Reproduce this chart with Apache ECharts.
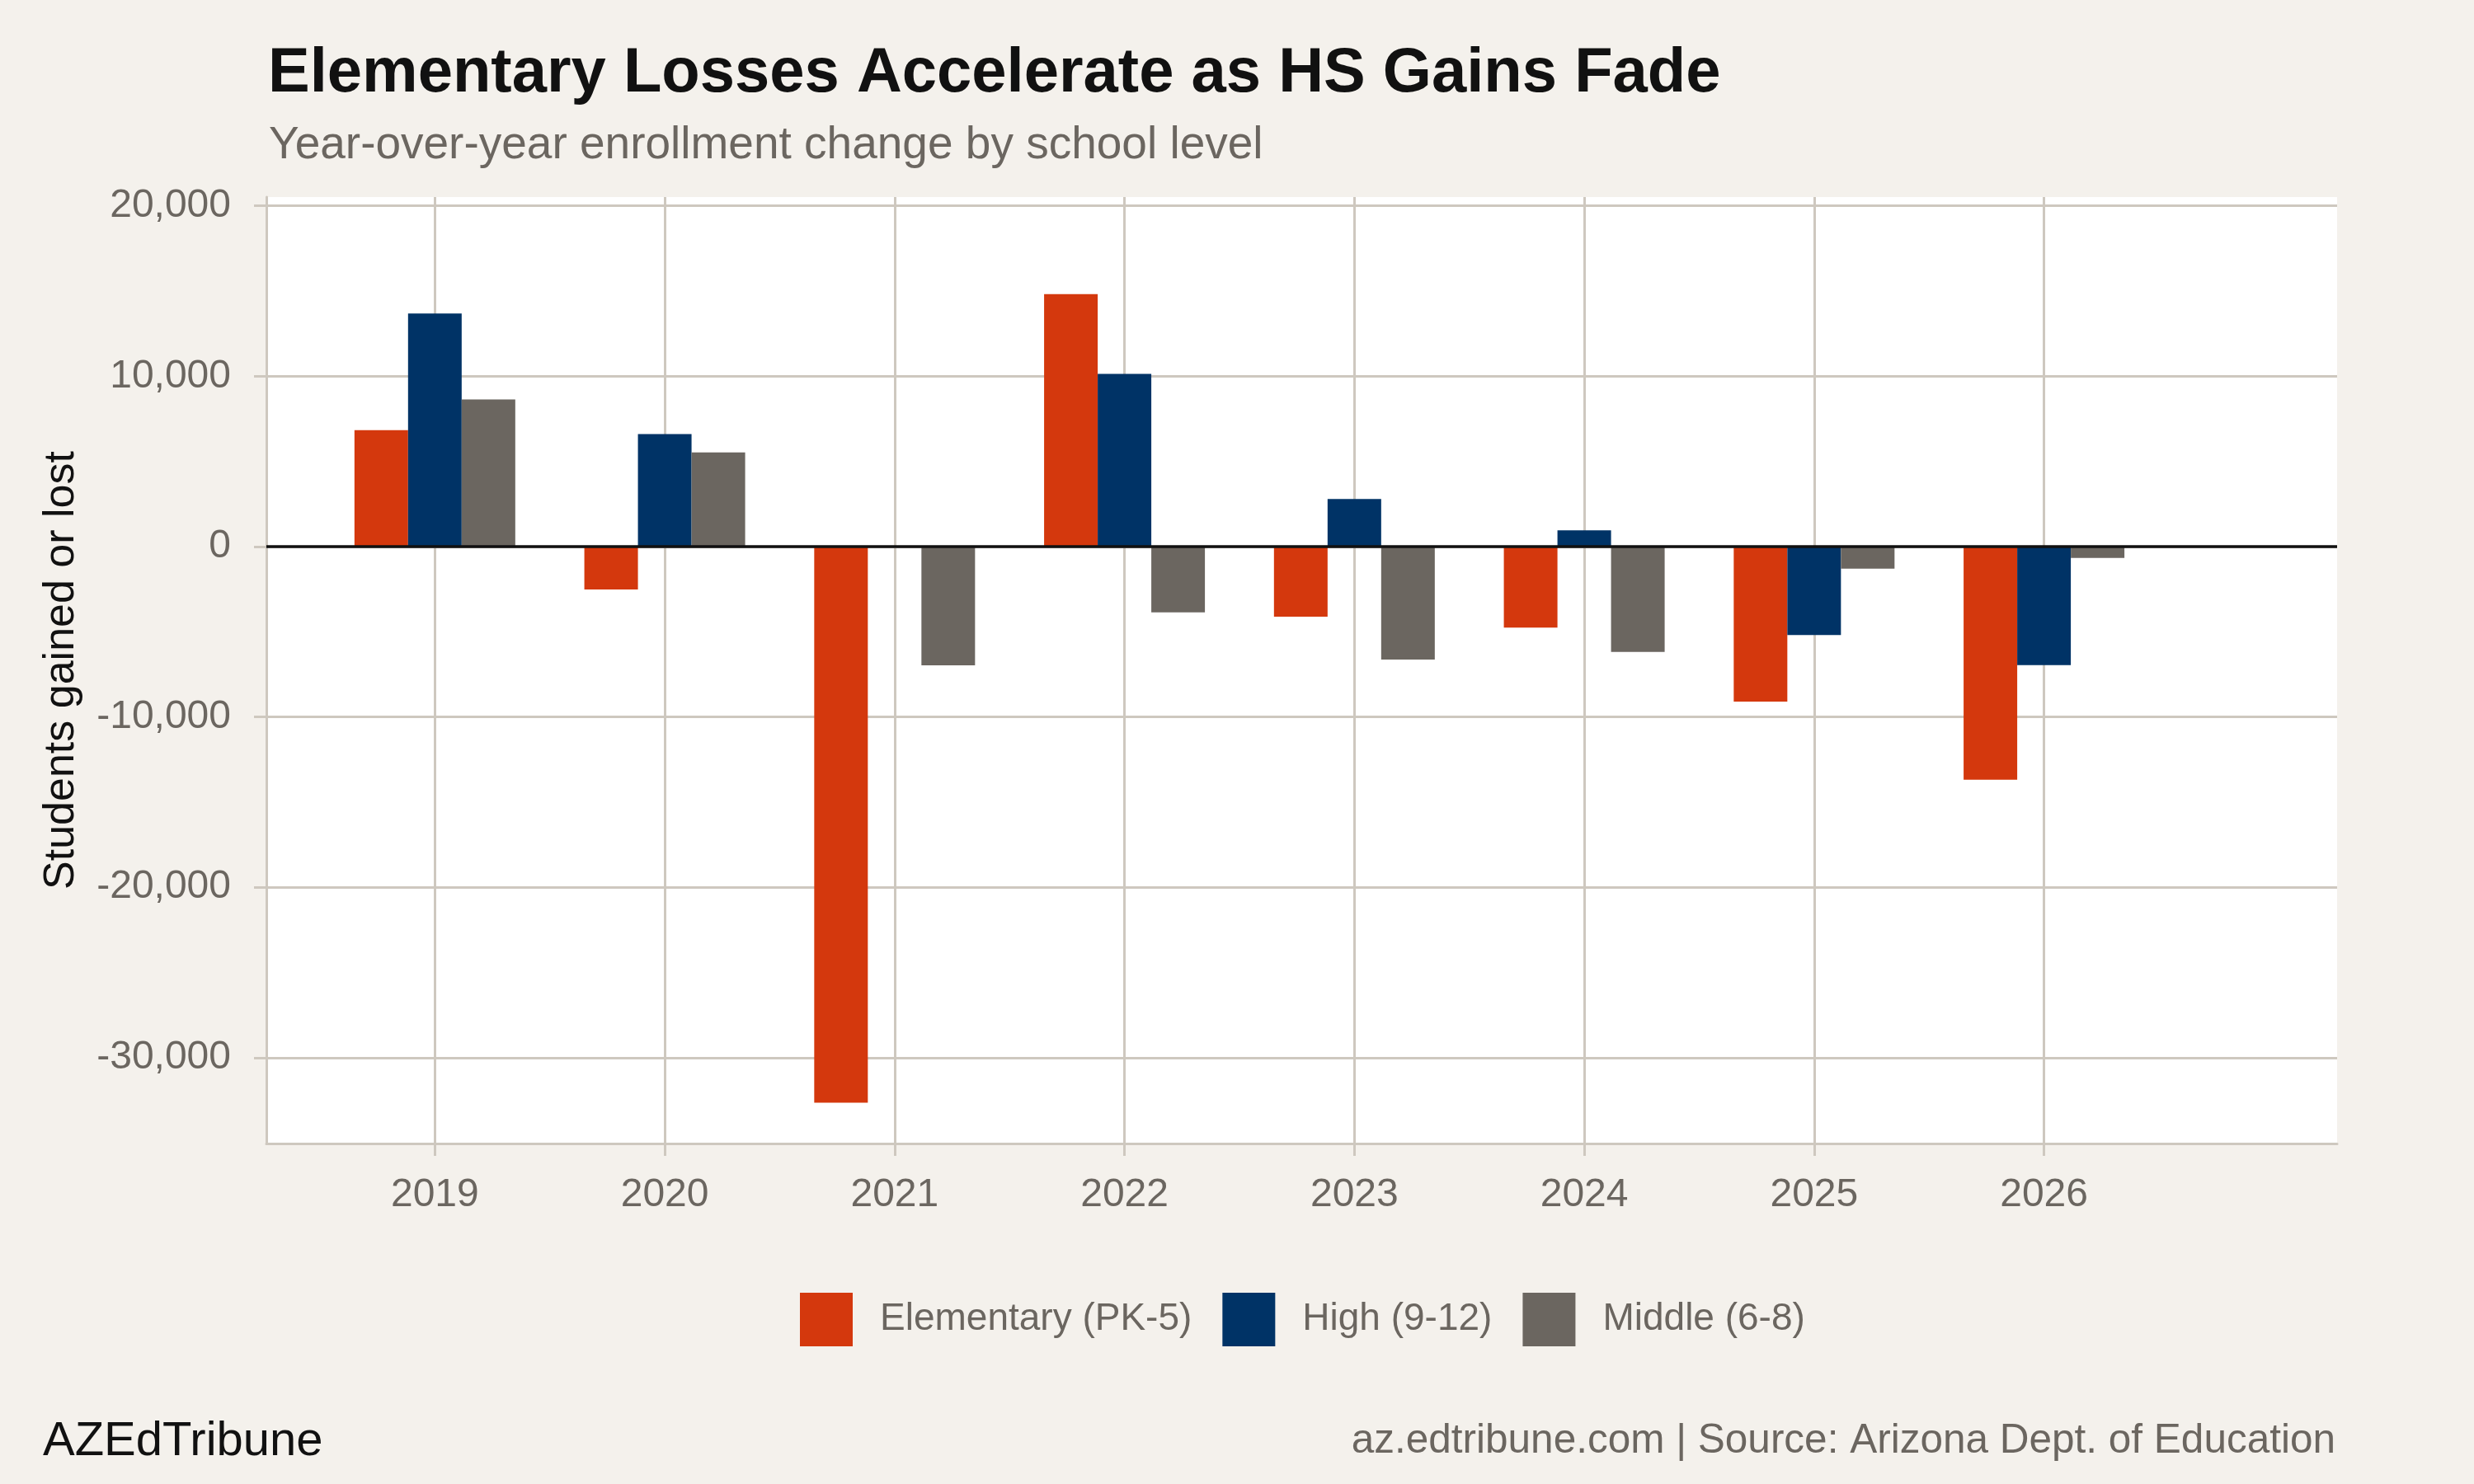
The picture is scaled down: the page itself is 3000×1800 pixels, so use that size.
<!DOCTYPE html>
<html>
<head>
<meta charset="utf-8">
<script src="https://cdn.jsdelivr.net/npm/echarts@6/dist/echarts.min.js"></script>
<style>
html,body{margin:0;padding:0;background:#F4F1EC;}
#chart{width:3000px;height:1800px;}
</style>
</head>
<body>
<div id="chart"></div>
<script>
// ---- data ----
const years = [2019, 2020, 2021, 2022, 2023, 2024, 2025, 2026];
const seriesNames = ['Elementary (PK-5)', 'High (9-12)', 'Middle (6-8)'];
const elementary = [6840, -2520, -32650, 14820, -4110, -4750, -9100, -13680];
const high = [13680, 6610, -50, 10140, 2790, 950, -5190, -6960];
const middle = [8640, 5530, -6970, -3860, -6630, -6180, -1300, -670];
const yTicks = [-30000, -20000, -10000, 0, 10000, 20000];

const FONT = '"Liberation Sans", Arial, Helvetica, sans-serif';
const GRAY_TXT = '#6B6660';
const GRID_C = '#CEC8BF';
const colors = ['#D4380D', '#003366', '#6B6660'];

const chart = echarts.init(document.getElementById('chart'));
const pair = arr => years.map((y, i) => [y, arr[i]]);

function barSeries(name, arr, color, extra) {
  return Object.assign({
    type: 'bar',
    name: name,
    data: pair(arr),
    barWidth: 65,
    barGap: '0%',
    itemStyle: { color: color },
    silent: true
  }, extra || {});
}

chart.setOption({
  backgroundColor: '#F4F1EC',
  animation: false,
  textStyle: { fontFamily: FONT },
  title: [
    { text: 'Elementary Losses Accelerate as HS Gains Fade', left: 320, top: 47,
      textStyle: { fontFamily: FONT, fontSize: 76, fontWeight: 'bold', color: '#111111' } },
    { text: 'Year-over-year enrollment change by school level', left: 321, top: 144,
      textStyle: { fontFamily: FONT, fontSize: 55, fontWeight: 'normal', color: GRAY_TXT } },
    { text: 'AZEdTribune', left: 47, top: 1715,
      textStyle: { fontFamily: FONT, fontSize: 58, fontWeight: 'normal', color: '#111111' } },
    { text: 'az.edtribune.com | Source: Arizona Dept. of Education', right: 163, top: 1718,
      textStyle: { fontFamily: FONT, fontSize: 49.5, fontWeight: 'normal', color: GRAY_TXT } }
  ],
  legend: {
    left: 965, top: 1563,
    itemWidth: 64, itemHeight: 65, itemGap: 37,
    icon: 'rect',
    data: seriesNames,
    textStyle: { fontFamily: FONT, fontSize: 46, color: GRAY_TXT, padding: [0, 0, 0, 28] },
    selectedMode: false
  },
  grid: {
    left: 323, right: 166, top: 239, bottom: 413,
    show: true, backgroundColor: '#FFFFFF', borderWidth: 0,
    containLabel: false
  },
  xAxis: {
    type: 'value',
    min: 2018.267, max: 2027.275,
    axisLine: { show: true, onZero: false, lineStyle: { color: GRID_C, width: 3 } },
    axisTick: { show: true, length: 15, customValues: years, lineStyle: { color: GRID_C, width: 3 } },
    axisLabel: { customValues: years, fontSize: 48, color: GRAY_TXT, margin: 39, fontFamily: FONT,
      formatter: v => String(v) },
    splitLine: { show: true, lineStyle: { color: GRID_C, width: 3 } }
  },
  yAxis: {
    type: 'value',
    min: -35040, max: 20520,
    name: 'Students gained or lost',
    nameLocation: 'middle',
    nameRotate: 90,
    nameGap: 222,
    nameTextStyle: { fontFamily: FONT, fontSize: 52, color: '#111111' },
    axisLine: { show: true, lineStyle: { color: GRID_C, width: 3 } },
    axisTick: { show: true, length: 15, customValues: yTicks, lineStyle: { color: GRID_C, width: 3 } },
    axisLabel: { customValues: yTicks, fontSize: 48, color: GRAY_TXT, margin: 43, fontFamily: FONT,
      formatter: v => Number(v).toLocaleString('en-US') },
    splitLine: { show: true, lineStyle: { color: GRID_C, width: 3 } }
  },
  series: [
    barSeries(seriesNames[0], elementary, colors[0], {
      markLine: {
        silent: true, symbol: 'none', z: 10,
        label: { show: false },
        lineStyle: { color: '#111111', width: 3.5, type: 'solid' },
        data: [{ yAxis: 0 }]
      }
    }),
    barSeries(seriesNames[1], high, colors[1]),
    barSeries(seriesNames[2], middle, colors[2])
  ]
});
</script>
</body>
</html>
